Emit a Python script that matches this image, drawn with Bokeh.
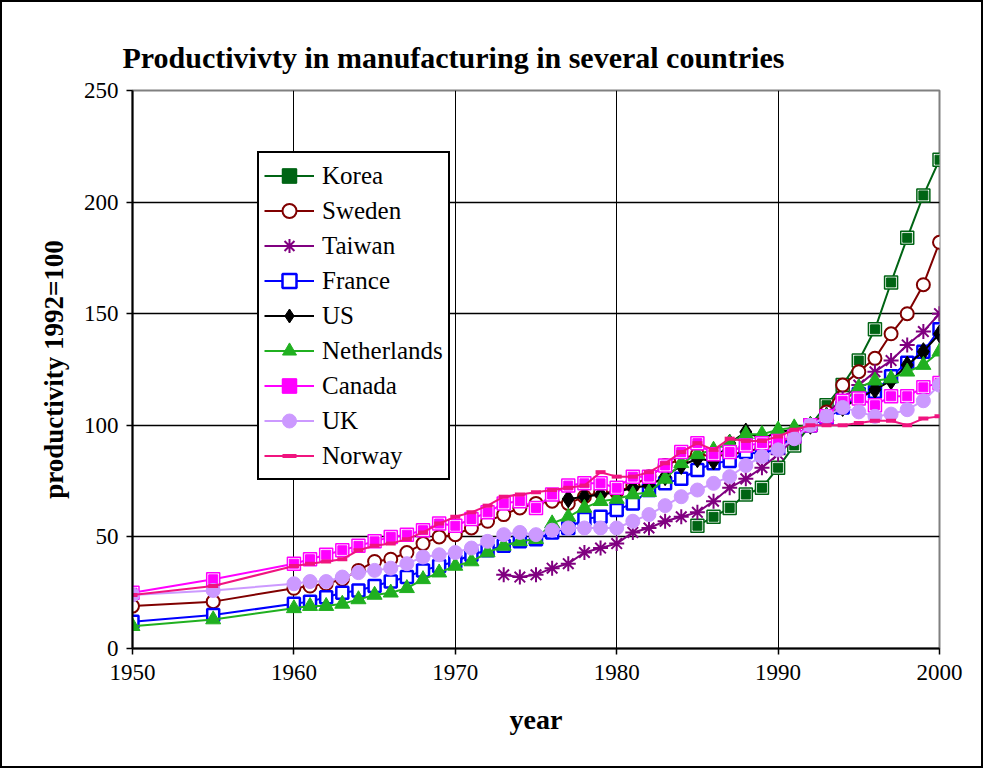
from bokeh.plotting import figure
from bokeh.models import Range1d, FixedTicker, Legend, LegendItem
from bokeh.embed import file_html
from bokeh.resources import INLINE

# ---------------- data ----------------
years_full = [1950, 1955, 1960] + list(range(1961, 2001))

korea_start = 1985
korea = [55, 59, 63, 69, 72, 81, 91, 100, 109, 118, 129, 143, 164, 184, 203, 219]

sweden = [19, 21, 27, 28, 29, 31, 35, 39, 40, 43, 47, 50, 51, 54, 57, 60, 63, 65, 66, 65,
          68, 70, 70, 73, 77, 82, 85, 87, 86, 87, 88, 90, 91, 95, 100, 106, 118, 124, 130,
          141, 150, 163, 182]

taiwan_start = 1973
taiwan = [33, 32, 33, 36, 38, 43, 45, 47, 52, 54, 57, 59, 61, 66, 72, 76, 81, 87, 94, 100,
          105, 112, 118, 124, 129, 136, 142, 150]

france = [12, 15, 20, 21, 23, 25, 26, 28, 30, 32, 35, 37, 39, 42, 44, 46, 48, 49, 52, 54,
          58, 59, 62, 65, 71, 74, 76, 80, 83, 84, 88, 87, 90, 95, 100, 103, 108, 114, 115,
          122, 128, 133, 143]

us_start = 1977
us = [67, 68, 69, 70, 72, 73, 77, 82, 85, 84, 92, 97, 94, 97, 98, 100, 104, 108, 112, 116,
      120, 127, 133, 141]

netherlands = [10, 13, 18, 19, 19, 20, 22, 24, 25, 27, 31, 34, 37, 39, 43, 46, 48, 49, 56,
               59, 63, 66, 67, 69, 70, 76, 83, 87, 89, 92, 96, 96, 98, 99, 100, 104, 110, 117,
               120, 121, 124, 127, 133]

canada = [25, 31, 38, 40, 42, 44, 46, 48, 50, 51, 53, 56, 55, 58, 61, 65, 66, 63, 69, 73,
          74, 74, 72, 77, 77, 82, 88, 92, 87, 88, 91, 92, 93, 95, 100, 104, 111, 112, 109,
          113, 113, 117, 119]

uk = [24, 26, 29, 30, 30, 32, 34, 35, 36, 38, 41, 42, 43, 45, 48, 51, 52, 51, 53, 54, 54,
      54, 54, 57, 60, 64, 68, 71, 74, 77, 82, 86, 89, 94, 100, 104, 108, 106, 104, 105,
      107, 111, 118]

norway = [24, 28, 37, 38, 39, 40, 44, 46, 47, 49, 52, 56, 59, 61, 64, 68, 69, 70, 71, 72,
          73, 79, 77, 77, 79, 83, 88, 92, 89, 94, 93, 93, 95, 98, 100, 100, 100, 101, 102,
          102, 100, 103, 104]

y_ticks = [0, 50, 100, 150, 200, 250]
x_ticks = [1950, 1960, 1970, 1980, 1990, 2000]

# ---------------- figure ----------------
SERIF = "Liberation Serif"

p = figure(width=983, height=768, output_backend="svg", toolbar_location=None,
           x_range=Range1d(1950, 2000), y_range=Range1d(0, 250),
           min_border_left=130, min_border_right=46, min_border_top=88,
           min_border_bottom=122)
p.styles = {"border": "2px solid black"}

p.title.text = "Productivivty in manufacturing in several countries"
p.title.text_font = SERIF
p.title.text_font_style = "bold"
p.title.text_font_size = "30px"
p.title.text_color = "black"
p.title.align = "left"
p.title.offset = -10
p.title.standoff = 34

p.outline_line_color = "#808080"
p.outline_line_width = 2
p.background_fill_color = "white"
p.border_fill_color = "white"

p.xaxis.ticker = FixedTicker(ticks=x_ticks)
p.yaxis.ticker = FixedTicker(ticks=y_ticks)
for ax in (p.xaxis[0], p.yaxis[0]):
    ax.axis_line_color = "black"
    ax.axis_line_width = 2
    ax.major_tick_line_color = "black"
    ax.major_tick_line_width = 1.5
    ax.major_tick_out = 6
    ax.major_tick_in = 0
    ax.minor_tick_line_color = None
    ax.major_label_text_font = SERIF
    ax.major_label_text_font_size = "23px"
    ax.major_label_text_color = "black"
    ax.axis_label_text_font = SERIF
    ax.axis_label_text_font_style = "bold"
    ax.axis_label_text_color = "black"

p.xaxis.axis_label = "year"
p.xaxis.axis_label_text_font_size = "28px"
p.xaxis.major_label_standoff = 10
p.xaxis.axis_label_standoff = 21
p.yaxis.axis_label = "productivity 1992=100"
p.yaxis.axis_label_text_font_size = "27px"
p.yaxis.major_label_standoff = 8
p.yaxis.axis_label_standoff = 12

p.xgrid.grid_line_color = "black"
p.xgrid.grid_line_width = 1
p.ygrid.grid_line_color = "black"
p.ygrid.grid_line_width = 1.5

yrs = lambda start, n: list(range(start, start + n))

items = []

def add_series(name, xs, ys, color, kind):
    rs = [p.line(xs, ys, line_color=color, line_width=2)]
    if kind == "sq2":
        rs.append(p.scatter(xs, ys, marker="square", size=13, fill_color="white",
                            line_color=color, line_width=1.5))
        rs.append(p.scatter(xs, ys, marker="square", size=9, fill_color=color,
                            line_color=color))
    elif kind == "ocircle":
        rs.append(p.scatter(xs, ys, marker="circle", size=13, fill_color="white",
                            line_color=color, line_width=2))
    elif kind == "star":
        rs.append(p.scatter(xs, ys, marker="asterisk", size=15, line_color=color,
                            line_width=2))
    elif kind == "osquare":
        rs.append(p.scatter(xs, ys, marker="square", size=12, fill_color="white",
                            line_color=color, line_width=2.5))
    elif kind == "diamond":
        rs.append(p.scatter(xs, ys, marker="diamond", size=18, fill_color=color,
                            line_color=color))
    elif kind == "triangle":
        rs.append(p.scatter(xs, ys, marker="triangle", size=15, fill_color=color,
                            line_color=color))
    elif kind == "dot":
        rs.append(p.scatter(xs, ys, marker="circle", size=14, fill_color=color,
                            line_color=color))
    elif kind == "dash":
        rs.append(p.scatter(xs, ys, marker="dash", size=10, line_color=color,
                            line_width=4))
    items.append(LegendItem(label=name, renderers=rs))

add_series("Korea", yrs(korea_start, len(korea)), korea, "#006414", "sq2")
add_series("Sweden", years_full, sweden, "#800000", "ocircle")
add_series("Taiwan", yrs(taiwan_start, len(taiwan)), taiwan, "#800080", "star")
add_series("France", years_full, france, "#0000FF", "osquare")
add_series("US", yrs(us_start, len(us)), us, "#000000", "diamond")
add_series("Netherlands", years_full, netherlands, "#20B020", "triangle")
add_series("Canada", years_full, canada, "#FF00FF", "sq2")
add_series("UK", years_full, uk, "#CC99FF", "dot")
add_series("Norway", years_full, norway, "#F0147F", "dash")

legend = Legend(items=items, location=(125, 168))
legend.label_text_font = SERIF
legend.label_text_font_size = "25px"
legend.label_text_color = "black"
legend.glyph_width = 50
legend.glyph_height = 35
legend.label_height = 35
legend.label_standoff = 8
legend.spacing = 0
legend.padding = 5
legend.margin = 0
legend.border_line_color = "black"
legend.border_line_alpha = 1
legend.border_line_width = 2
legend.background_fill_alpha = 1
p.add_layout(legend, "center")

open("out.html", "w").write(file_html(p, INLINE))
